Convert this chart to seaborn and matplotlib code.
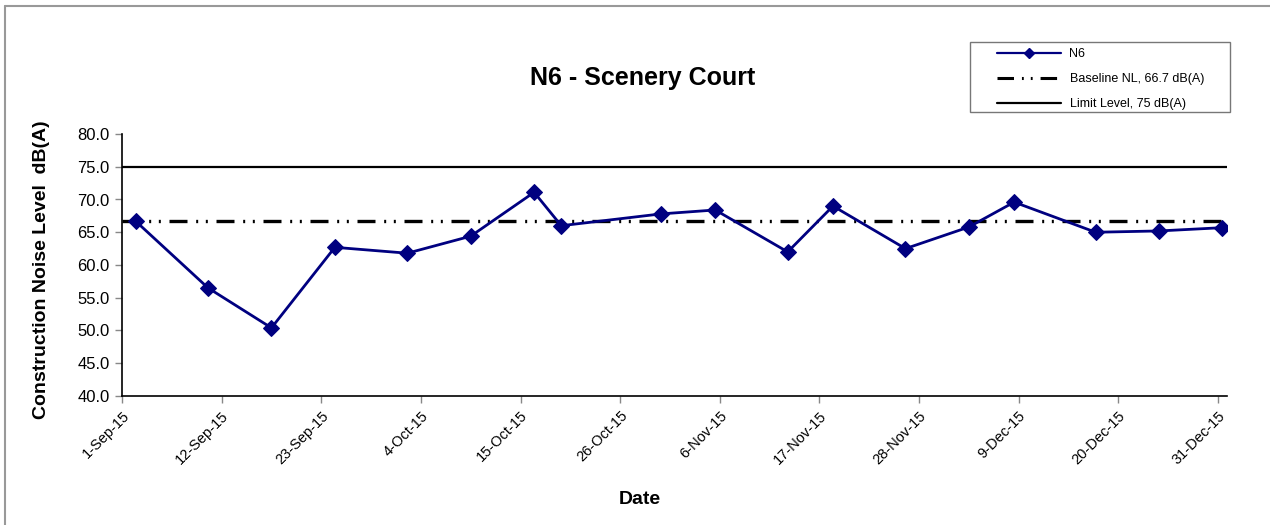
import matplotlib
matplotlib.use("Agg")
import matplotlib.pyplot as plt
from matplotlib.lines import Line2D
from matplotlib.patches import Rectangle
import seaborn as sns
import pandas as pd

# ---- data ----
dates = ["2015-09-02", "2015-09-10", "2015-09-17", "2015-09-24", "2015-10-02",
         "2015-10-09", "2015-10-16", "2015-10-19", "2015-10-30", "2015-11-05",
         "2015-11-13", "2015-11-18", "2015-11-26", "2015-12-03", "2015-12-08",
         "2015-12-17", "2015-12-24", "2015-12-31"]
n6_values = [66.7, 56.5, 50.4, 62.7, 61.8, 64.4, 71.1, 66.0, 67.8, 68.4,
             62.0, 69.0, 62.5, 65.8, 69.6, 65.0, 65.2, 65.7]
baseline_level = 66.7
limit_level = 75.0
tick_dates = ["2015-09-01", "2015-09-12", "2015-09-23", "2015-10-04", "2015-10-15",
              "2015-10-26", "2015-11-06", "2015-11-17", "2015-11-28", "2015-12-09",
              "2015-12-20", "2015-12-31"]
y_ticks = [40.0, 45.0, 50.0, 55.0, 60.0, 65.0, 70.0, 75.0, 80.0]
series_label = "N6"
baseline_label = "Baseline NL, 66.7 dB(A)"
limit_label = "Limit Level, 75 dB(A)"
title = "N6 - Scenery Court"
ylabel = "Construction Noise Level  dB(A)"
xlabel = "Date"

sns.set_theme(style="white")
plt.rcParams["font.family"] = ["Liberation Sans", "DejaVu Sans"]
plt.rcParams["text.color"] = "black"

# points sit in the middle of each day slot (Excel date axis)
df = pd.DataFrame({"date": pd.to_datetime(dates) + pd.Timedelta(hours=12),
                   "value": n6_values})

W, H = 1270, 525
fig = plt.figure(figsize=(12.7, 5.25), dpi=100)
ax = fig.add_axes([122 / W, 1 - 396 / H, (1227 - 122) / W, (396 - 134) / H])

navy = "#000080"
sns.lineplot(data=df, x="date", y="value", ax=ax, color=navy, lw=2.0,
             marker="D", markersize=8, markeredgecolor=navy, zorder=4)

bl_style = (0, (5.4, 2.6, 0.6, 2.3, 0.6, 2.6))
ax.axhline(baseline_level, color="black", lw=2.4, linestyle=bl_style, zorder=3)
ax.axhline(limit_level, color="black", lw=1.6, zorder=3)

ax.set_xlim(pd.Timestamp("2015-09-01"), pd.Timestamp("2016-01-01"))
ax.set_ylim(40, 80)
ax.set_yticks(y_ticks)
ax.set_yticklabels([f"{v:.1f}" for v in y_ticks], fontsize=12, color="black")
tks = pd.to_datetime(tick_dates)
ax.set_xticks(tks)
ax.set_xticklabels([f"{d.day}-{d.strftime('%b')}-{d.strftime('%y')}" for d in tks],
                   rotation=45, ha="right", rotation_mode="anchor", fontsize=10.5,
                   color="black")
ax.tick_params(axis="both", direction="out", length=5, width=1, color="#888888",
               bottom=True, left=True, pad=4)
ax.set_xlabel("")
ax.set_ylabel("")
for s in ["top", "right"]:
    ax.spines[s].set_visible(False)
for s in ["left", "bottom"]:
    ax.spines[s].set_color("black")
    ax.spines[s].set_linewidth(1.2)

fig.text(643 / W, 1 - 78 / H, title, ha="center", va="center",
         fontsize=18, fontweight="bold", color="black")
fig.text(42 / W, 1 - 270 / H, ylabel, ha="center", va="center",
         rotation=90, fontsize=14, fontweight="bold", color="black")
fig.text(640 / W, 1 - 500 / H, xlabel, ha="center", va="center",
         fontsize=14, fontweight="bold", color="black")

handles = [
    Line2D([], [], color=navy, lw=1.6, marker="D", markersize=5),
    Line2D([], [], color="black", lw=2.2, linestyle=bl_style),
    Line2D([], [], color="black", lw=1.6),
]
leg = ax.legend(handles, [series_label, baseline_label, limit_label],
                loc="upper left", bbox_to_anchor=(997 / W, 1 - 48 / H),
                bbox_transform=fig.transFigure, borderaxespad=0, borderpad=0,
                fontsize=9, frameon=False, handlelength=5.1, numpoints=1,
                labelspacing=1.05, handletextpad=0.7)
for t in leg.get_texts():
    t.set_color("black")

# legend box
fig.add_artist(Rectangle((970 / W, 1 - 112 / H), (1230 - 970) / W, (112 - 42) / H,
                         transform=fig.transFigure, fill=False,
                         edgecolor="#777777", lw=1.0))

# outer chart frame (left and top edges visible)
fig.add_artist(Line2D([5 / W, 5 / W], [0, 1 - 6 / H], transform=fig.transFigure,
                      color="#999999", lw=1.5))
fig.add_artist(Line2D([5 / W, 1], [1 - 6 / H, 1 - 6 / H], transform=fig.transFigure,
                      color="#999999", lw=1.5))

fig.savefig("out.png", dpi=100)
